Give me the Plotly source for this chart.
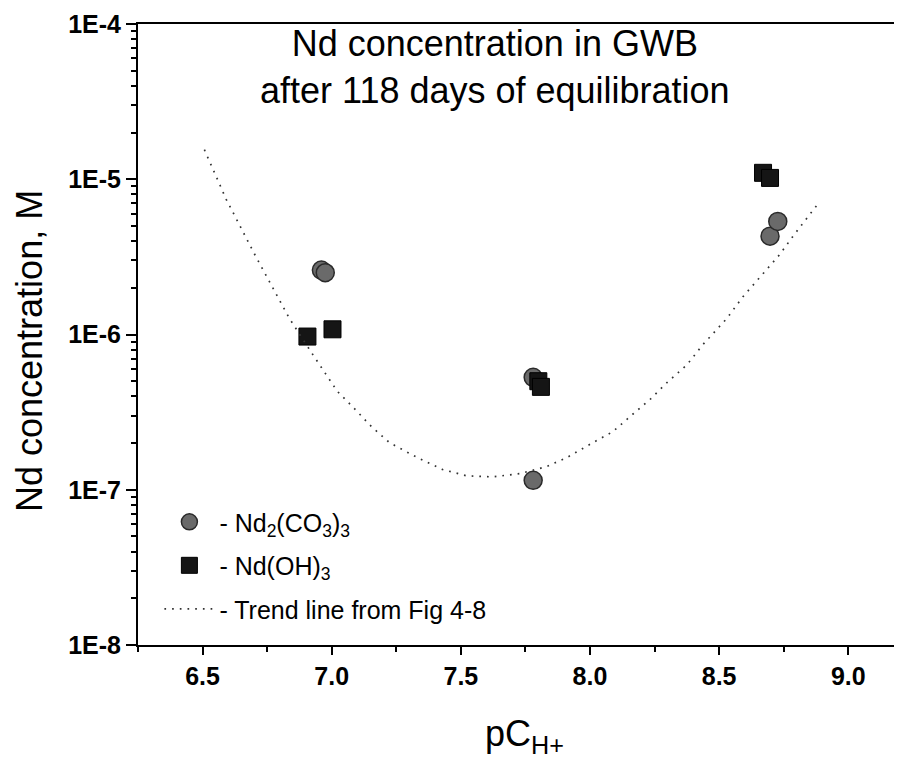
import plotly.graph_objects as go

# ---- data ----
circ_x = [6.96, 6.975, 7.78, 7.78, 8.697, 8.727]
circ_y = [2.6e-6, 2.5e-6, 5.3e-7, 1.15e-7, 4.3e-6, 5.35e-6]

sq_x = [6.906, 7.003, 7.80, 7.81, 8.67, 8.697]
sq_y = [9.7e-7, 1.08e-6, 5.0e-7, 4.6e-7, 1.1e-5, 1.02e-5]

trend_x = [6.507, 6.592, 6.701, 6.836, 6.925, 7.022, 7.088, 7.154, 7.224, 7.332,
           7.429, 7.522, 7.623, 7.728, 7.832, 7.910, 8.011, 8.089, 8.155, 8.232,
           8.298, 8.376, 8.437, 8.530, 8.592, 8.669, 8.735, 8.786, 8.839, 8.890]
trend_y = [1.55e-5, 7.4e-6, 3.3e-6, 1.27e-6, 7.5e-7, 4.3e-7, 3.33e-7, 2.55e-7, 2.01e-7, 1.61e-7,
           1.35e-7, 1.23e-7, 1.21e-7, 1.27e-7, 1.41e-7, 1.61e-7, 2.01e-7, 2.37e-7, 2.96e-7, 3.81e-7,
           4.9e-7, 6.4e-7, 8.6e-7, 1.27e-6, 1.75e-6, 2.44e-6, 3.28e-6, 4.3e-6, 5.6e-6, 7.2e-6]

y_tickvals = [1e-8, 1e-7, 1e-6, 1e-5, 1e-4]
y_ticktext = ["1E-8", "1E-7", "1E-6", "1E-5", "1E-4"]
x_tickvals = [6.5, 7.0, 7.5, 8.0, 8.5, 9.0]
x_ticktext = ["6.5", "7.0", "7.5", "8.0", "8.5", "9.0"]

title_lines = ["Nd concentration in GWB", "after 118 days of equilibration"]
y_title = "Nd concentration, M"
x_title = "pC<sub>H+</sub>"

FONT = "Liberation Sans, Arial, sans-serif"

fig = go.Figure()

fig.add_trace(go.Scatter(
    x=circ_x, y=circ_y, mode="markers",
    name="- Nd<sub>2</sub>(CO<sub>3</sub>)<sub>3</sub>",
    legendgroup="a",
    marker=dict(symbol="circle", size=18, color="#6a6a6a",
                line=dict(color="#2a2a2a", width=1.5)),
))
fig.add_trace(go.Scatter(
    x=sq_x, y=sq_y, mode="markers",
    name="- Nd(OH)<sub>3</sub>",
    legendgroup="b",
    marker=dict(symbol="square", size=17, color="#151515",
                line=dict(color="#000000", width=1)),
))
fig.add_trace(go.Scatter(
    x=trend_x, y=trend_y, mode="lines",
    name="- Trend line from Fig 4-8",
    legendgroup="c",
    line=dict(color="#333333", width=1.7, dash="1.7px,6px"),
))

minor_y = []
for e in range(-8, -4):
    for m in range(2, 10):
        minor_y.append(m * 10 ** e)

fig.update_layout(
    width=894, height=750,
    margin=dict(l=130, r=0, t=16, b=113),
    paper_bgcolor="white", plot_bgcolor="white",
    font=dict(family=FONT, color="black"),
    showlegend=True,
    legend=dict(
        x=0.028, y=0.235, xanchor="left", yanchor="top",
        bgcolor="rgba(0,0,0,0)", borderwidth=0,
        font=dict(size=25, family=FONT, color="black"),
        tracegroupgap=8, itemwidth=50,
    ),
    xaxis=dict(
        range=[6.25, 9.208], automargin=False,
        showgrid=False, zeroline=False,
        showline=True, linecolor="black", linewidth=2, mirror=True,
        ticks="outside", ticklen=8, tickwidth=2, tickcolor="black",
        tickvals=x_tickvals, ticktext=x_ticktext,
        tickfont=dict(size=25, family=FONT, color="black", weight="bold"),
        minor=dict(ticks="outside", ticklen=5, tickwidth=1.5, tickcolor="black",
                   dtick=0.25, tick0=6.25),
    ),
    yaxis=dict(
        type="log", range=[-8, -4], automargin=False,
        showgrid=False, zeroline=False,
        showline=True, linecolor="black", linewidth=2, mirror=False,
        ticks="outside", ticklen=10, tickwidth=2, tickcolor="black",
        tickvals=y_tickvals, ticktext=y_ticktext,
        tickfont=dict(size=25, family=FONT, color="black", weight="bold"),
        minor=dict(ticks="outside", ticklen=5, tickwidth=1.5, tickcolor="black",
                   tickvals=minor_y),
    ),
)

fig.add_annotation(
    xref="paper", yref="paper", x=(495 - 138) / 764, y=1 - (67 - 24) / 621,
    text="<br>".join(title_lines), showarrow=False,
    xanchor="center", yanchor="middle",
    font=dict(size=36, family=FONT, color="black"),
)
fig.add_annotation(
    xref="paper", yref="paper", x=(29 - 138) / 764, y=1 - (351 - 24) / 621,
    text=y_title, showarrow=False, textangle=-90,
    xanchor="center", yanchor="middle",
    font=dict(size=36, family=FONT, color="black"),
)
fig.add_annotation(
    xref="paper", yref="paper", x=(524 - 138) / 764, y=-(736 - 645) / 621,
    text=x_title, showarrow=False,
    xanchor="center", yanchor="middle",
    font=dict(size=36, family=FONT, color="black"),
)

fig.write_html("out.html")
